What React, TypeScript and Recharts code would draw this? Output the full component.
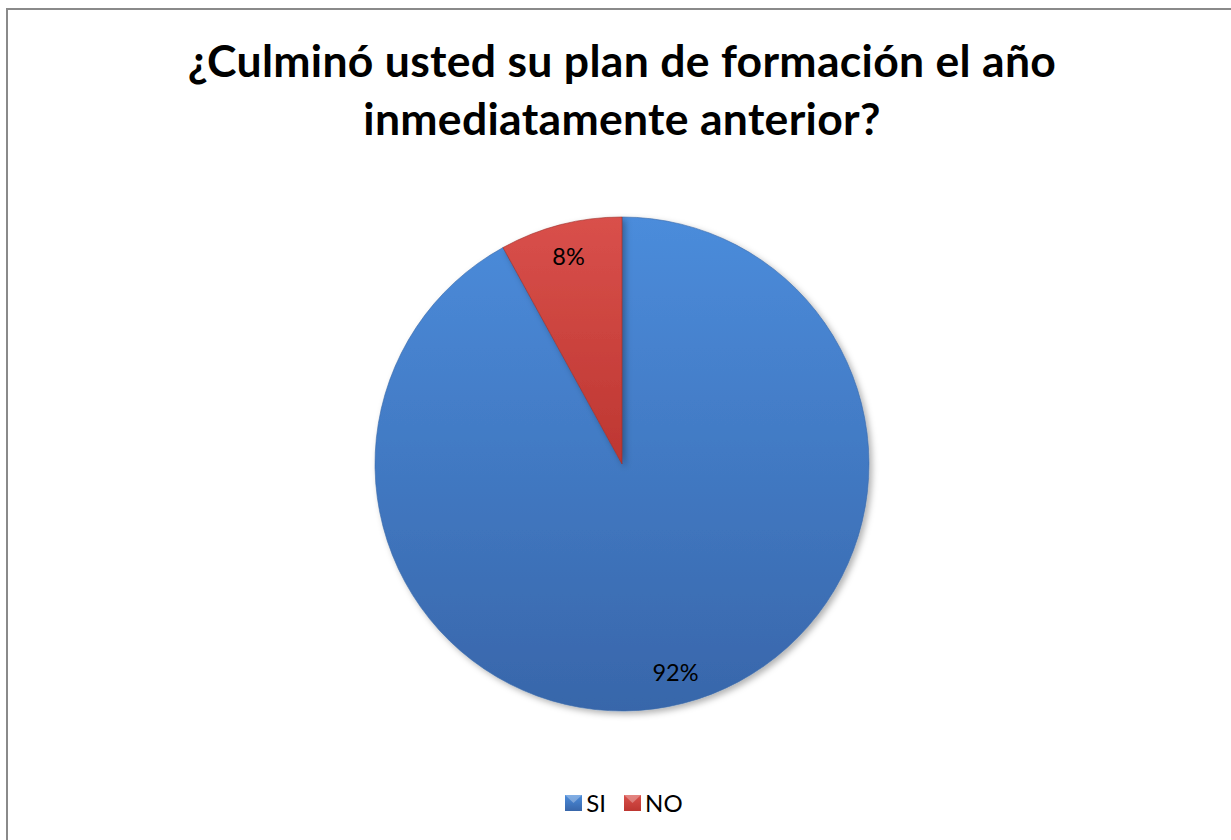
import { Cell, Legend, Pie, PieChart } from "recharts";

const answers = ["SI", "NO"];
const shares = [92, 8];

const data = answers.map((name, i) => ({ name, value: shares[i] }));

const RADIAN = Math.PI / 180;
const FONT = "Lato, 'Open Sans', sans-serif";

function renderLabel(props: any) {
  const { cx, cy, midAngle, outerRadius, value } = props;
  const r = outerRadius * 0.87;
  const x = cx + r * Math.cos(-midAngle * RADIAN);
  const y = cy + r * Math.sin(-midAngle * RADIAN);
  return (
    <text
      x={x}
      y={y}
      fill="#000"
      fontSize={23.5}
      fontFamily={FONT}
      textAnchor="middle"
      dominantBaseline="central"
    >
      {`${value}%`}
    </text>
  );
}

function LegendContent() {
  return (
    <div
      style={{
        display: "flex",
        justifyContent: "center",
        gap: 17,
        fontFamily: FONT,
        lineHeight: "24px",
        color: "#000",
      }}
    >
      {answers.map((name, i) => (
        <span key={name} style={{ display: "flex", alignItems: "center", fontSize: 24 }}>
          <svg width={19} height={18} style={{ marginRight: 3 }}>
            <rect x={1} y={1} width={17} height={16} fill={`url(#grad${i})`} />
            <path d="M1 1 L18 1 L9.5 9 Z" fill="#fff" opacity={0.3} />
          </svg>
          {name}
        </span>
      ))}
    </div>
  );
}

export default function App() {
  return (
    <div
      style={{
        position: "fixed",
        left: 0,
        top: 0,
        width: 1231,
        height: 840,
        background: "#fff",
      }}
    >
      <div
        style={{
          position: "absolute",
          left: 6,
          top: 8,
          width: 1240,
          height: 850,
          border: "2px solid #8a8a8a",
          boxSizing: "border-box",
        }}
      />
      <div
        style={{
          position: "absolute",
          left: 0,
          top: 31,
          width: 1244,
          textAlign: "center",
          fontFamily: FONT,
          fontWeight: 700,
          fontSize: 44.5,
          letterSpacing: 0.3,
          lineHeight: "58px",
          color: "#000",
        }}
      >
        ¿Culminó usted su plan de formación el año
        <br />
        inmediatamente anterior?
      </div>
      <div style={{ position: "absolute", left: 0, top: 0 }}>
        <PieChart width={1231} height={840} margin={{ top: 0, right: 0, bottom: 0, left: 0 }}>
          <defs>
            <linearGradient id="grad0" x1="0" y1="0" x2="0" y2="1">
              <stop offset="0%" stopColor="#4b8cdb" />
              <stop offset="100%" stopColor="#3866aa" />
            </linearGradient>
            <linearGradient id="grad1" x1="0" y1="0" x2="0" y2="1">
              <stop offset="0%" stopColor="#d9504b" />
              <stop offset="100%" stopColor="#bd3631" />
            </linearGradient>
            <filter id="pieShadow" x="-10%" y="-10%" width="125%" height="125%">
              <feDropShadow dx={3} dy={3} stdDeviation={3} floodColor="#000" floodOpacity={0.3} />
            </filter>
          </defs>
          <Pie
            data={data}
            dataKey="value"
            nameKey="name"
            cx={622}
            cy={464}
            outerRadius={247}
            startAngle={90}
            endAngle={-270}
            strokeWidth={0.6}
            label={renderLabel}
            labelLine={false}
            isAnimationActive={false}
            style={{ filter: "url(#pieShadow)" }}
          >
            {data.map((d, i) => (
              <Cell
                key={d.name}
                fill={`url(#grad${i})`}
                stroke={i === 0 ? "#3a6aa8" : "#9c2b27"}
              />
            ))}
          </Pie>
          <Legend
            content={<LegendContent />}
            wrapperStyle={{ top: 791, left: 8, width: 1231 }}
          />
        </PieChart>
      </div>
    </div>
  );
}
